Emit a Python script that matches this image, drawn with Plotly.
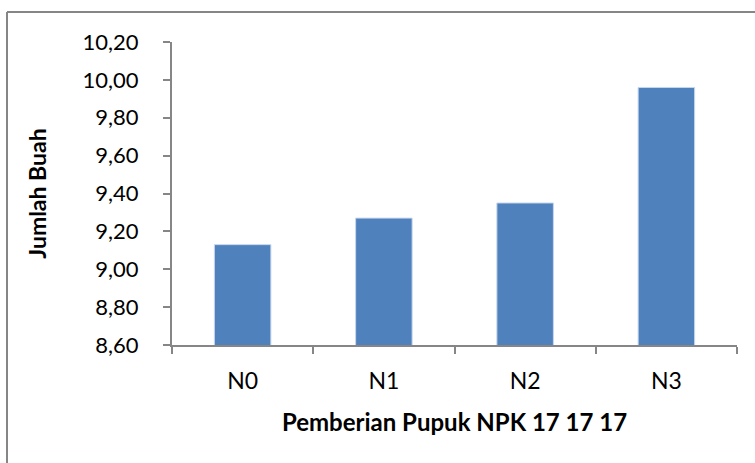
import plotly.graph_objects as go

categories = ["N0", "N1", "N2", "N3"]
values = [9.13, 9.27, 9.35, 9.96]
y_tick_vals = [8.6, 8.8, 9.0, 9.2, 9.4, 9.6, 9.8, 10.0, 10.2]
y_tick_text = ["8,60", "8,80", "9,00", "9,20", "9,40", "9,60", "9,80", "10,00", "10,20"]
x_title = "Pemberian Pupuk NPK 17 17 17"
y_title = "Jumlah Buah"

W, H = 755, 463
L, R, T, B = 172, 18, 42, 118
pw, ph = W - L - R, H - T - B

fig = go.Figure(go.Bar(
    x=categories, y=values, width=0.4,
    marker=dict(color="#4F81BD", line=dict(color="#C7D7EC", width=1)),
))

axis_color = "#868686"
fig.update_layout(
    width=W, height=H,
    margin=dict(l=L, r=R, t=T, b=B, autoexpand=False),
    paper_bgcolor="white", plot_bgcolor="white",
    font=dict(family="Lato", color="#000000", size=22),
    showlegend=False,
    xaxis=dict(
        showline=True, linecolor=axis_color, linewidth=2,
        ticks="outside", ticklen=7, tickcolor=axis_color, tickwidth=2,
        tickson="boundaries", showgrid=False,
        tickfont=dict(family="Lato", size=23, color="#000"),
        ticklabelstandoff=14,
        title=dict(text="<b>" + x_title + "</b>", font=dict(family="Lato", size=24, color="#000"), standoff=22),
    ),
    yaxis=dict(
        range=[8.6, 10.2], showline=True, linecolor=axis_color, linewidth=2,
        ticks="outside", ticklen=7, tickcolor=axis_color, tickwidth=2,
        tickvals=y_tick_vals, ticktext=y_tick_text, showgrid=False, zeroline=False,
        tickfont=dict(family="Lato", size=22, color="#000"),
        ticklabelstandoff=20,
        title=dict(text="<b>" + y_title + "</b>", font=dict(family="Lato", size=23, color="#000"), standoff=30),
    ),
)

# outer chart frame (left and top edges visible)
x_left = (7 - L) / pw
y_top = (H - B - 12) / ph
x_right = (W + 10 - L) / pw
y_bottom = (H - B - (H + 10)) / ph
fig.add_shape(type="line", xref="paper", yref="paper", x0=x_left, x1=x_right, y0=y_top, y1=y_top,
              line=dict(color=axis_color, width=2))
fig.add_shape(type="line", xref="paper", yref="paper", x0=x_left, x1=x_left, y0=y_top, y1=y_bottom,
              line=dict(color=axis_color, width=2))

fig.write_html("out.html", config={"displayModeBar": False},
               post_script="document.body.style.margin='0';document.body.style.overflow='hidden';")
